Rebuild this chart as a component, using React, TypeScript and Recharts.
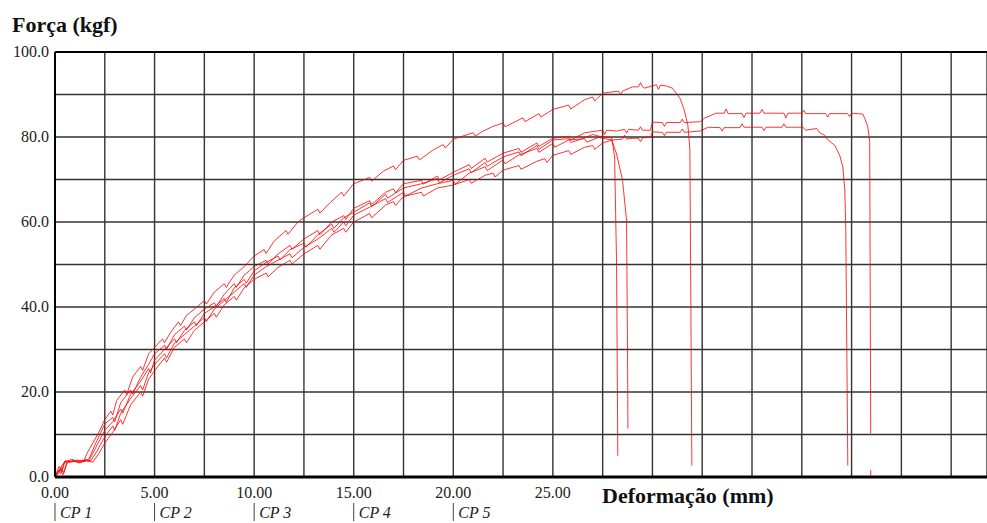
import React from 'react';
import { LineChart, Line, XAxis, YAxis, CartesianGrid, ReferenceLine } from 'recharts';

// deformação (mm) / força (kgf)
const xTicks = [0, 2.5, 5, 7.5, 10, 12.5, 15, 17.5, 20, 22.5, 25, 27.5, 30, 32.5, 35, 37.5, 40, 42.5, 45];
const yTicks = [0, 10, 20, 30, 40, 50, 60, 70, 80, 90, 100];
const xLabelTicks = [0, 5, 10, 15, 20, 25];
const yLabelTicks = [0, 20, 40, 60, 80, 100];
const cpLabels = ['CP 1', 'CP 2', 'CP 3', 'CP 4', 'CP 5'];

const cpA: [number, number][] = [
  [0, 0], [0.15, 1.5], [0.3, 0.8], [0.45, 3.5], [0.6, 3.8], [0.9, 3.6], [1.2, 3.9], [1.45, 3.7],
  [1.6, 5.5], [1.9, 8], [2.2, 10.5], [2.5, 13.5], [2.8, 15.5], [2.9, 14.6], [3.1, 18], [3.5, 20.5],
  [3.6, 19.4], [3.9, 23.5], [4.3, 26], [4.4, 25.1], [4.7, 29], [5.0, 30.5], [5.4, 32.5], [5.5, 31.6],
  [5.8, 34], [6.2, 36.5], [6.3, 35.6], [6.6, 38], [7.0, 39.5], [7.5, 41.5], [7.6, 40.7], [8.0, 43.5],
  [8.5, 45.5], [8.6, 44.6], [9.0, 47.5], [9.5, 49.5], [10.0, 52], [10.5, 53.5], [10.6, 52.6],
  [11.0, 55.5], [11.6, 58], [11.7, 57.1], [12.2, 60], [12.5, 61], [13.2, 63], [13.3, 62.1],
  [13.8, 64.5], [14.4, 67], [14.5, 66.1], [15.0, 69], [15.8, 70.5], [15.9, 69.6], [16.5, 72],
  [17.0, 73.2], [17.1, 72.3], [17.5, 74.5], [18.2, 75.5], [18.3, 74.6], [19.0, 77], [19.5, 78.2],
  [19.6, 77.4], [20.0, 79.5], [21.0, 81], [21.1, 80.2], [21.5, 81.4], [22.0, 82.5], [22.5, 83.3],
  [22.6, 82.4], [23.5, 84.5], [23.6, 83.6], [24.3, 85.5], [24.4, 84.7], [25.0, 86.5], [25.8, 87.5],
  [25.9, 86.6], [26.6, 88.8], [27.0, 89.4], [27.1, 88.5], [27.5, 90.3], [28.3, 90.8], [28.4, 89.9],
  [28.5, 90.8], [29.0, 91.8], [29.3, 91.8], [29.4, 92.8], [29.5, 91.8], [29.6, 91.5], [30.2, 92.3],
  [30.3, 91.2], [30.4, 92.2], [30.7, 92], [31.0, 91.5], [31.4, 89], [31.6, 86.3], [31.78, 82.8],
  [31.88, 77], [31.98, 2.7],
];

const cpB: [number, number][] = [
  [0, 0], [0.2, 2.5], [0.35, 1.2], [0.5, 3.8], [0.8, 3.5], [1.1, 4], [1.4, 3.6], [1.7, 4.2],
  [2.0, 7.5], [2.5, 12.5], [2.9, 14], [3.0, 13], [3.3, 17.5], [3.8, 20.5], [3.9, 19.5], [4.3, 23.5],
  [4.7, 26.5], [5.0, 29], [5.5, 31], [5.6, 30], [6.0, 33.5], [6.5, 35.5], [6.6, 34.6], [7.0, 37.5],
  [7.5, 39.5], [8.0, 41], [8.1, 40.1], [8.5, 43], [9.0, 45.5], [9.1, 44.6], [9.5, 47.5], [10, 49.5],
  [10.6, 51], [10.7, 50.1], [11.2, 52.5], [11.8, 54.5], [11.9, 53.6], [12.5, 56], [13.2, 58],
  [13.3, 57], [13.9, 60], [14.5, 61.5], [14.6, 60.6], [15, 63.2], [15.8, 65], [15.9, 64.1],
  [16.6, 67], [17.0, 67.8], [17.1, 66.9], [17.5, 69], [18.4, 69.8], [18.5, 68.9], [19.2, 70.8],
  [19.3, 69.9], [20, 71.7], [20.8, 73.5], [20.9, 72.6], [21.6, 75], [21.7, 74.1], [22.5, 76.2],
  [23.3, 77.3], [23.4, 76.4], [24.2, 78.6], [24.3, 77.8], [25, 79.7], [25.8, 80.2], [25.9, 79.3],
  [26.6, 81], [27.5, 81.6], [27.6, 80.6], [27.7, 81.6], [28.2, 81.4], [28.6, 81.8], [28.7, 80.9],
  [28.8, 81.8], [29.3, 81.6], [29.4, 82.4], [29.5, 81.6], [29.9, 81.6], [30.0, 83.5], [30.5, 83.4],
  [30.6, 82.5], [30.7, 83.4], [31.4, 83.4], [31.5, 84.2], [31.6, 83.4], [32.4, 83.6], [32.6, 84.4],
  [33.2, 85.6], [33.6, 85.6], [33.7, 86.6], [33.8, 85.5], [34.5, 85.5], [34.6, 84.6], [34.7, 85.6],
  [35.4, 85.6], [35.5, 86.5], [35.6, 85.6], [36.6, 85.6], [36.7, 84.5], [36.8, 85.6], [37.5, 85.6],
  [37.6, 86.3], [37.7, 85.5], [38.7, 85.5], [38.8, 84.7], [38.9, 85.5], [39.8, 85.5], [39.9, 84.8],
  [40.0, 85.6], [40.56, 85.4], [40.66, 84.4], [40.81, 82.5], [40.91, 79], [40.96, 10.2],
];

const cpBTail: [number, number][] = [[40.96, 1.6], [40.96, 0]];

const cpC: [number, number][] = [
  [0, 0], [0.25, 1.8], [0.4, 0.5], [0.6, 3.2], [0.9, 3.9], [1.2, 3.4], [1.6, 3.8], [1.9, 3.5],
  [2.2, 5.5], [2.5, 8], [2.9, 10.5], [3.3, 13.5], [3.4, 12.4], [3.8, 17], [4.3, 20], [4.4, 19],
  [4.7, 23], [5, 25], [5.5, 28], [5.6, 27], [6, 30.5], [6.5, 32.5], [6.6, 31.6], [7.0, 34.5],
  [7.5, 36.5], [8, 38.5], [8.1, 37.6], [8.5, 40.5], [9, 42.5], [9.1, 41.6], [9.5, 44.5], [10, 46.5],
  [10.6, 48], [10.7, 47.1], [11.2, 49.3], [11.8, 51], [11.9, 50.1], [12.5, 52.5], [13.2, 54.5],
  [13.3, 53.6], [13.9, 57], [14.5, 58.5], [14.6, 57.6], [15, 60], [15.8, 62], [15.9, 61],
  [16.6, 64], [17.0, 64.8], [17.1, 63.9], [17.5, 66], [18.4, 67], [18.5, 66.1], [19.2, 68],
  [20, 68.7], [20.8, 70], [20.9, 69.1], [21.6, 71], [22.0, 71.5], [22.1, 70.6], [22.5, 72.2],
  [23.3, 73.3], [23.4, 72.4], [24.2, 74.3], [24.6, 74.9], [24.7, 74], [25, 75.7], [25.8, 76.8],
  [25.9, 75.9], [26.6, 77.6], [27.0, 78], [27.1, 77.1], [27.5, 78.6], [28, 79.3], [28.5, 79.5],
  [28.6, 80.4], [28.7, 79.5], [29, 79.7], [29.3, 79.7], [29.4, 78.9], [29.5, 79.8], [29.9, 79.9],
  [30, 81.2], [30.5, 81.1], [30.6, 80.3], [30.7, 81.1], [31.4, 81.1], [31.5, 81.9], [31.6, 81.1],
  [32.4, 81.4], [32.8, 82.3], [33.4, 82.2], [33.5, 81.4], [33.6, 82.2], [34.4, 82.2], [34.5, 83.1],
  [34.6, 82.3], [35.5, 82.3], [35.6, 81.5], [35.7, 82.3], [36.5, 82.3], [36.6, 83.1], [36.7, 82.3],
  [37.55, 82.3], [37.7, 81.6], [38.25, 82], [38.4, 81], [38.65, 80.4], [38.8, 79.4], [39.16, 78],
  [39.4, 75.7], [39.56, 73], [39.66, 67.5], [39.71, 58], [39.81, 2.7],
];

const cpD: [number, number][] = [
  [0, 0], [0.2, 1], [0.35, 2.8], [0.55, 3.5], [0.85, 4.2], [1.1, 3.5], [1.4, 4], [1.7, 3.7],
  [2.0, 6.5], [2.5, 11], [2.9, 13], [3.3, 16], [3.4, 15], [3.8, 19.5], [4.3, 22.5], [4.7, 25.5],
  [4.8, 24.5], [5, 27.5], [5.5, 30], [6, 32.5], [6.1, 31.6], [6.5, 34.5], [7, 36.5], [7.1, 35.6],
  [7.5, 38.5], [8, 40], [8.5, 42], [8.6, 41.1], [9, 44.5], [9.5, 46.5], [9.6, 45.6], [10, 48.5],
  [10.6, 50.5], [11.2, 52], [11.3, 51.1], [11.8, 53.5], [12.5, 55], [12.6, 54.1], [13.2, 57],
  [13.9, 59.5], [14.0, 58.5], [14.5, 61], [15, 62.3], [15.8, 64.5], [15.9, 63.6], [16.6, 66.5],
  [16.7, 65.6], [17.5, 68], [18.4, 69], [19.2, 70.2], [19.3, 69.2], [20, 71], [20.8, 72.5],
  [20.9, 71.6], [21.6, 74], [21.7, 73.1], [22.5, 75.3], [23.3, 76.5], [23.4, 75.6], [24.2, 78],
  [24.3, 77.1], [25, 79.3], [25.8, 79.6], [25.9, 78.7], [26.6, 79.8], [27.0, 80.6], [27.3, 80.2],
  [27.96, 79.8], [28.1, 75.3], [28.2, 50], [28.26, 5],
];

const cpE: [number, number][] = [
  [0, 0], [0.3, 2.2], [0.45, 1], [0.6, 3.6], [0.95, 3.8], [1.25, 3.3], [1.5, 4.1], [1.8, 3.8],
  [2.1, 6], [2.5, 9.5], [2.9, 12], [3.0, 11], [3.3, 15], [3.8, 18.5], [4.3, 21.5], [4.4, 20.5],
  [4.7, 24.5], [5, 26.5], [5.5, 29], [5.6, 28], [6, 31.5], [6.5, 33.5], [7, 35.5], [7.5, 37.5],
  [7.6, 36.6], [8, 39.5], [8.5, 41.5], [9, 43.5], [9.5, 45.5], [9.6, 44.6], [10, 47.5], [10.6, 49.5],
  [11.2, 51], [11.8, 52.5], [11.9, 51.6], [12.5, 54], [13.2, 56], [13.9, 58.5], [14.0, 57.6],
  [14.5, 60], [14.6, 59.1], [15, 61.6], [15.8, 63.5], [16.6, 65.5], [16.7, 64.6], [17.5, 67],
  [17.6, 66.1], [18.4, 68], [19.2, 69], [20, 69.8], [20.1, 68.9], [20.8, 71.5], [21.6, 73],
  [21.7, 72.1], [22.5, 74.6], [22.6, 73.7], [23.3, 75.8], [24.2, 77.3], [24.3, 76.4], [25, 78.5],
  [25.1, 77.6], [25.8, 79.3], [26.6, 79.6], [26.7, 78.8], [27.3, 79.9], [27.96, 79.3], [28.2, 76],
  [28.5, 69.8], [28.7, 60.4], [28.75, 30], [28.77, 11.4],
];

const toPoints = (arr: [number, number][]) => arr.map(([x, y]) => ({ x, y }));

const curves = [cpA, cpB, cpBTail, cpC, cpD, cpE];

const serif = '"Liberation Serif", "Times New Roman", serif';

const XTick = (props: any) => {
  const { x, y, payload } = props;
  const idx = xLabelTicks.indexOf(payload.value);
  if (idx < 0) return <g />;
  return (
    <g>
      <text x={x} y={y + 21} textAnchor="middle" fontFamily={serif} fontSize={16} fill="#222">
        {payload.value.toFixed(2)}
      </text>
      {idx < cpLabels.length && (
        <g>
          <line x1={x} x2={x} y1={y + 26} y2={y + 44} stroke="#444" strokeWidth={1} />
          <text x={x + 5} y={y + 41} fontFamily={serif} fontSize={16} fontStyle="italic" fill="#222">
            {cpLabels[idx]}
          </text>
        </g>
      )}
    </g>
  );
};

const YTick = (props: any) => {
  const { x, y, payload } = props;
  if (!yLabelTicks.includes(payload.value)) return <g />;
  return (
    <text x={x - 6} y={y + 5} textAnchor="end" fontFamily={serif} fontSize={16} fill="#222">
      {payload.value.toFixed(1)}
    </text>
  );
};

export default function App() {
  return (
    <div style={{ position: 'absolute', left: 0, top: 0, width: 987, height: 523, background: '#fff' }}>
      <LineChart width={987} height={523} margin={{ top: 52, right: 0, left: 0, bottom: 0 }}>
        <CartesianGrid stroke="#333" strokeWidth={1.4} />
        <XAxis
          type="number"
          dataKey="x"
          domain={[0, 46.8]}
          ticks={xTicks}
          interval={0}
          height={46}
          tickSize={0}
          tickMargin={0}
          tickLine={false}
          axisLine={{ stroke: '#000', strokeWidth: 3 }}
          tick={<XTick />}
        />
        <YAxis
          type="number"
          dataKey="y"
          domain={[0, 100]}
          ticks={yTicks}
          interval={0}
          width={55}
          tickSize={0}
          tickMargin={0}
          tickLine={false}
          axisLine={{ stroke: '#000', strokeWidth: 2 }}
          tick={<YTick />}
        />
        <ReferenceLine y={100} stroke="#000" strokeWidth={2} />
        {curves.map((c, i) => (
          <Line
            key={i}
            data={toPoints(c)}
            dataKey="y"
            type="linear"
            stroke="#ff0000"
            strokeWidth={1}
            strokeOpacity={0.8}
            dot={false}
            isAnimationActive={false}
          />
        ))}
      </LineChart>
      <svg width={987} height={523} style={{ position: 'absolute', left: 0, top: 0, pointerEvents: 'none' }}>
        <text x={12} y={32} fontFamily={serif} fontSize={22} fontWeight="bold" fill="#111">
          Força (kgf)
        </text>
        <text x={602} y={503} fontFamily={serif} fontSize={22} fontWeight="bold" fill="#111">
          Deformação (mm)
        </text>
      </svg>
    </div>
  );
}
